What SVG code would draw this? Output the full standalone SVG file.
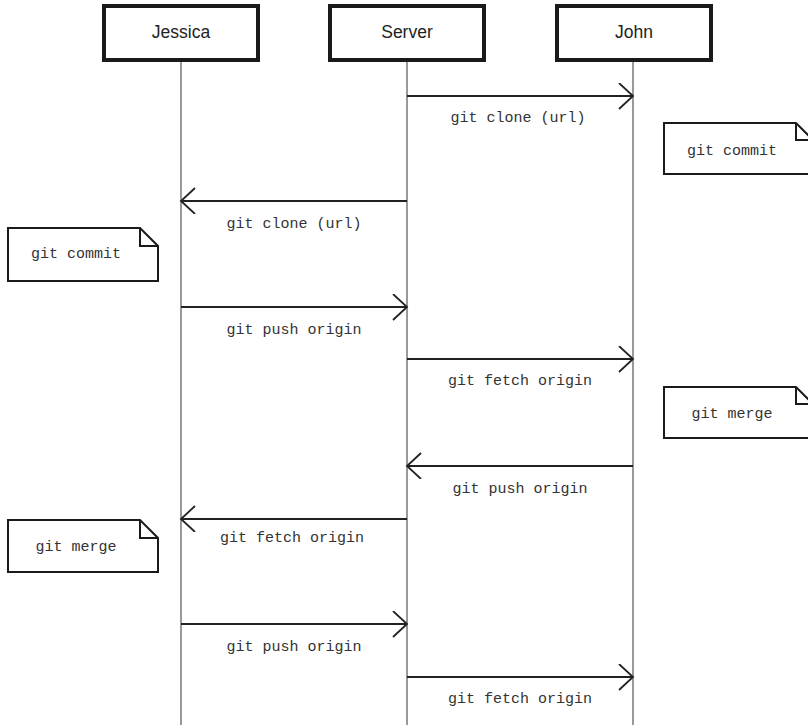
<svg xmlns="http://www.w3.org/2000/svg" width="808" height="725" viewBox="0 0 808 725">
<defs>
<style>
.actor{fill:#fff;stroke:#1a1a1a;stroke-width:4}
.aname{font-family:"Liberation Sans",Arial,sans-serif;font-size:17.5px;fill:#222;text-anchor:middle}
.life{stroke:#555;stroke-width:1.2;fill:none}
.msg{stroke:#222;stroke-width:1.8;fill:none}
.lbl{font-family:"Liberation Mono","DejaVu Sans Mono",monospace;font-size:15px;fill:#333;text-anchor:middle}
.note{fill:#fff;stroke:#1a1a1a;stroke-width:2;stroke-linejoin:miter}
.ntxt{font-family:"Liberation Mono","DejaVu Sans Mono",monospace;font-size:15px;fill:#333;text-anchor:middle}
</style>
<marker id="ah" markerUnits="userSpaceOnUse" markerWidth="20" markerHeight="30" refX="16" refY="13" orient="auto" viewBox="0 0 20 30">
<path d="M2,0 L16,13 L2,26" fill="none" stroke="#222" stroke-width="1.8"/>
</marker>
</defs>
<rect width="808" height="725" fill="#fff"/>
<g id="lifelines">
<line class="life" x1="181" y1="62" x2="181" y2="725"/>
<line class="life" x1="407" y1="62" x2="407" y2="725"/>
<line class="life" x1="633" y1="62" x2="633" y2="725"/>
</g>
<g id="jessica"><rect class="actor" x="104" y="6" width="154" height="54"/><text class="aname" x="181" y="38">Jessica</text></g>
<g id="server"><rect class="actor" x="330" y="6" width="154" height="54"/><text class="aname" x="407" y="38">Server</text></g>
<g id="john"><rect class="actor" x="557" y="6" width="154" height="54"/><text class="aname" x="634" y="38">John</text></g>
<g id="note-john-commit"><path class="note" d="M664,123 H796 L813,140 V174 H664 Z M796,123 V140 H813"/><text class="ntxt" x="732" y="155">git commit</text></g>
<g id="note-jessica-commit"><path class="note" d="M8,228 H140 L158,246 V281 H8 Z M140,228 V246 H158"/><text class="ntxt" x="76" y="258">git commit</text></g>
<g id="note-john-merge"><path class="note" d="M664,387 H796 L813,404 V438 H664 Z M796,387 V404 H813"/><text class="ntxt" x="732" y="418">git merge</text></g>
<g id="note-jessica-merge"><path class="note" d="M8,520 H140 L158,538 V572 H8 Z M140,520 V538 H158"/><text class="ntxt" x="76" y="551">git merge</text></g>
<g id="connectors">
<line class="msg" x1="407" y1="96" x2="633" y2="96" marker-end="url(#ah)"/>
<line class="msg" x1="407" y1="201" x2="181" y2="201" marker-end="url(#ah)"/>
<line class="msg" x1="181" y1="307" x2="407" y2="307" marker-end="url(#ah)"/>
<line class="msg" x1="407" y1="359" x2="633" y2="359" marker-end="url(#ah)"/>
<line class="msg" x1="633" y1="466" x2="407" y2="466" marker-end="url(#ah)"/>
<line class="msg" x1="407" y1="519" x2="181" y2="519" marker-end="url(#ah)"/>
<line class="msg" x1="181" y1="624" x2="407" y2="624" marker-end="url(#ah)"/>
<line class="msg" x1="407" y1="677" x2="633" y2="677" marker-end="url(#ah)"/>
</g>
<g id="labels">
<text class="lbl" x="518" y="122">git clone (url)</text>
<text class="lbl" x="294" y="228">git clone (url)</text>
<text class="lbl" x="294" y="334">git push origin</text>
<text class="lbl" x="520" y="385">git fetch origin</text>
<text class="lbl" x="520" y="493">git push origin</text>
<text class="lbl" x="292" y="542">git fetch origin</text>
<text class="lbl" x="294" y="651">git push origin</text>
<text class="lbl" x="520" y="703">git fetch origin</text>
</g>
</svg>
